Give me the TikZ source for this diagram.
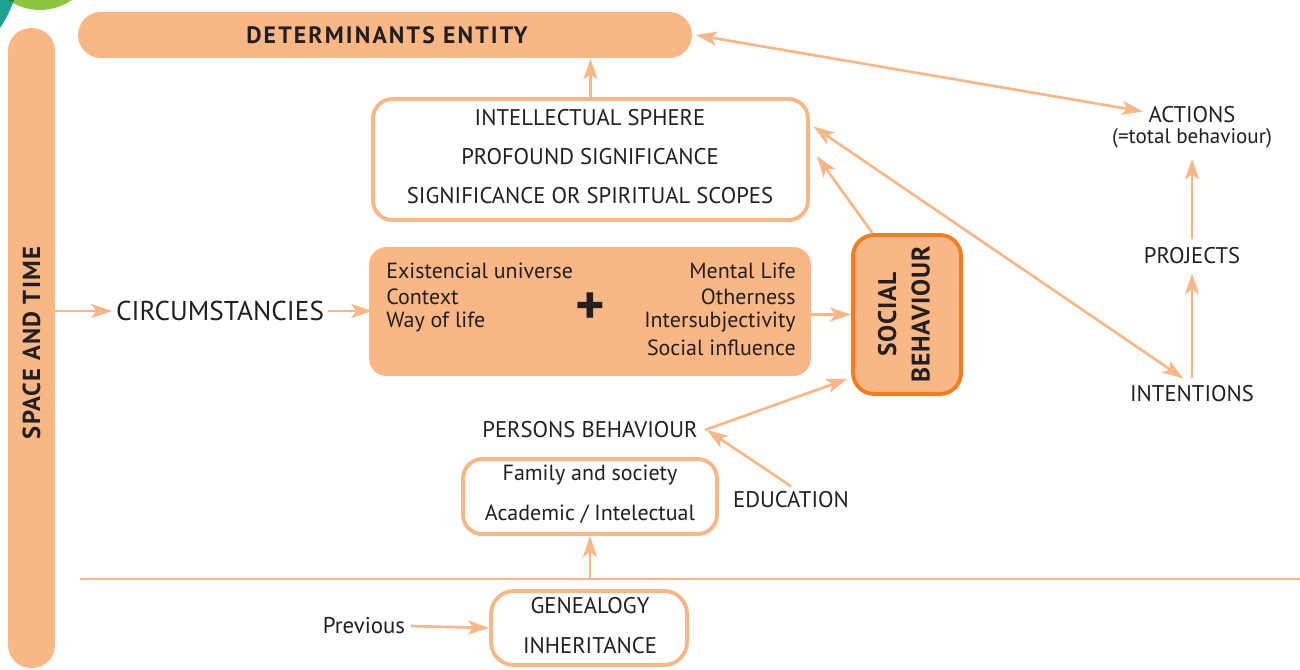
\documentclass[tikz,border=0pt]{standalone}
\usepackage{fontspec}
\setmainfont{PT Sans}
\usetikzlibrary{arrows.meta,calc}
\definecolor{lor}{HTML}{F9B785}
\definecolor{dor}{HTML}{F47C20}
\definecolor{txt}{HTML}{231F20}
\definecolor{teal1}{HTML}{1BA38F}
\definecolor{grn}{HTML}{8CC63F}
\definecolor{dgrn}{HTML}{178A45}
\begin{document}
\begin{tikzpicture}[x=0.02cm,y=-0.02cm,
  tx/.style={inner sep=0pt, text=txt, font=\fontsize{12.9}{14}\selectfont},
  txs/.style={inner sep=0pt, text=txt, font=\fontsize{12.5}{14}\selectfont},
  arr/.style={draw=lor, line width=1.5pt, -{Stealth[length=12pt,width=8pt,inset=3pt]}},
  darr/.style={draw=lor, line width=1.5pt, {Stealth[length=12pt,width=8pt,inset=3pt]}-{Stealth[length=12pt,width=8pt,inset=3pt]}},
  fillbox/.style={fill=lor, inner sep=0pt},
  linebox/.style={draw=lor, line width=2.2pt, fill=white, inner sep=0pt, rounded corners=11pt}
]
\useasboundingbox (0,0) rectangle (1300,669);
\begin{scope}
\clip (0,0) rectangle (1300,669);
% corner circles
\fill[teal1] (-103,-41) circle [radius=2.48cm];
\fill[grn] (40,-46) circle [radius=1.12cm];
\begin{scope}
\clip (-103,-41) circle [radius=2.48cm];
\fill[dgrn] (40,-46) circle [radius=1.12cm];
\end{scope}
% space and time bar
\node[fillbox, rounded corners=13pt, minimum width=0.94cm, minimum height=12.8cm] (bar) at (31.5,348) {};
\end{scope}
\node[rotate=90, inner sep=0pt, text=txt, font=\fontsize{14}{15}\selectfont\bfseries\addfontfeatures{LetterSpace=5}] (bart) at (31.5,343) {SPACE AND TIME};

% determinants
\node[fillbox, rounded corners=13pt, minimum width=12.28cm, minimum height=0.92cm] (det) at (385,35) {};
\node[inner sep=0pt, text=txt, font=\fontsize{13.5}{14}\selectfont\bfseries\addfontfeatures{LetterSpace=9}] (dett) at (387,35) {DETERMINANTS ENTITY};

% intellectual box
\node[linebox, minimum width=8.7cm, minimum height=2.42cm] (intel) at (590.5,159.5) {};
\node[tx] (i1) at (590,118) {INTELLECTUAL SPHERE};
\node[tx] (i2) at (590,157) {PROFOUND SIGNIFICANCE};
\node[tx] (i3) at (590,196) {SIGNIFICANCE OR SPIRITUAL SCOPES};

% middle box
\node[fillbox, rounded corners=10pt, minimum width=8.84cm, minimum height=2.58cm] (mid) at (590,311.5) {};
\node[txs, anchor=west] (m1) at (386,271) {Existencial universe};
\node[txs, anchor=west] (m2) at (386,297) {Context};
\node[txs, anchor=west] (m3) at (386,322) {Way of life};
\node[txs, anchor=east] (m4) at (796,271) {Mental Life};
\node[txs, anchor=east] (m5) at (796,297) {Otherness};
\node[txs, anchor=east] (m6) at (796,322) {Intersubjectivity};
\node[txs, anchor=east] (m7) at (796,348) {Social influence};
\node[inner sep=0pt, text=txt, font=\fontsize{32}{34}\selectfont\bfseries] (plus) at (590,309) {+};

% social behaviour
\node[fill=lor, draw=dor, line width=2.2pt, rounded corners=12pt, inner sep=0pt, minimum width=2.16cm, minimum height=3.18cm] (social) at (907,314.5) {};
\node[rotate=90, inner sep=0pt, text=txt, align=center, font=\fontsize{14.5}{19}\selectfont\bfseries\addfontfeatures{LetterSpace=3}] (socialt) at (904,314.5) {SOCIAL\\BEHAVIOUR};

% circumstancies
\node[inner sep=0pt, text=txt, font=\fontsize{15.5}{17}\selectfont] (circ) at (220,311) {CIRCUMSTANCIES};

% persons, education, family
\node[tx] (pers) at (590,430) {PERSONS BEHAVIOUR};
\node[tx] (edu) at (791,500) {EDUCATION};
\node[linebox, minimum width=5.08cm, minimum height=1.5cm] (fam) at (590,496.5) {};
\node[txs] (f1) at (590,475) {Family and society};
\node[txs] (f2) at (590,514) {Academic / Intelectual};

% horizontal line
\coordinate (hl) at (80,579);
\coordinate (hr) at (1300,579);
\coordinate (hm) at (590,579);
\draw[lor, line width=1.5pt] (hl) -- (hr);

% genealogy
\node[linebox, rounded corners=13pt, minimum width=3.92cm, minimum height=1.48cm] (gen) at (589,628) {};
\node[tx] (g1) at (590,606) {GENEALOGY};
\node[tx] (g2) at (590,646) {INHERITANCE};
\node[inner sep=0pt, text=txt, font=\fontsize{13}{14}\selectfont] (prev) at (364,626) {Previous};

% right column
\node[tx] (act) at (1192,115) {ACTIONS};
\node[inner sep=0pt, text=txt, font=\fontsize{12}{13}\selectfont] (actb) at (1192,138) {(=total behaviour)};
\node[tx] (proj) at (1192,256) {PROJECTS};
\node[tx] (intn) at (1192,394) {INTENTIONS};

% connectors
\draw[arr] (intel.north) -- (intel.north |- det.south);
\draw[arr] (circ -| bar.east) -- ([xshift=-2pt]circ.west);
\draw[arr] ([xshift=2pt]circ.east) -- ([xshift=2pt]circ.east -| mid.west);
\draw[arr] (mid.east |- social.west) -- (social.west);
\draw[arr] (social.113) -- ([shift={(4pt,2pt)}]intel.east);
\draw[darr] ([xshift=2pt]det.east) -- ([shift={(-3pt,2pt)}]act.west);
\draw[darr] ([shift={(2pt,-1pt)}]intel.9) -- ([shift={(-5pt,4pt)}]intn.north);
\draw[arr] ([yshift=4pt]intn.north) -- ([yshift=-5pt]proj.south);
\draw[arr] ([yshift=5pt]proj.north) -- ([yshift=-6pt]actb.south);
\draw[arr] ([xshift=4pt]pers.east) -- ([xshift=-2pt]social.229);
\draw[arr] ([yshift=3pt]edu.north) -- ([xshift=5pt]pers.east);
\draw[arr] (hm) -- (fam.south);
\draw[arr] ([xshift=3pt]prev.east) -- (gen.west);
\end{tikzpicture}
\end{document}
